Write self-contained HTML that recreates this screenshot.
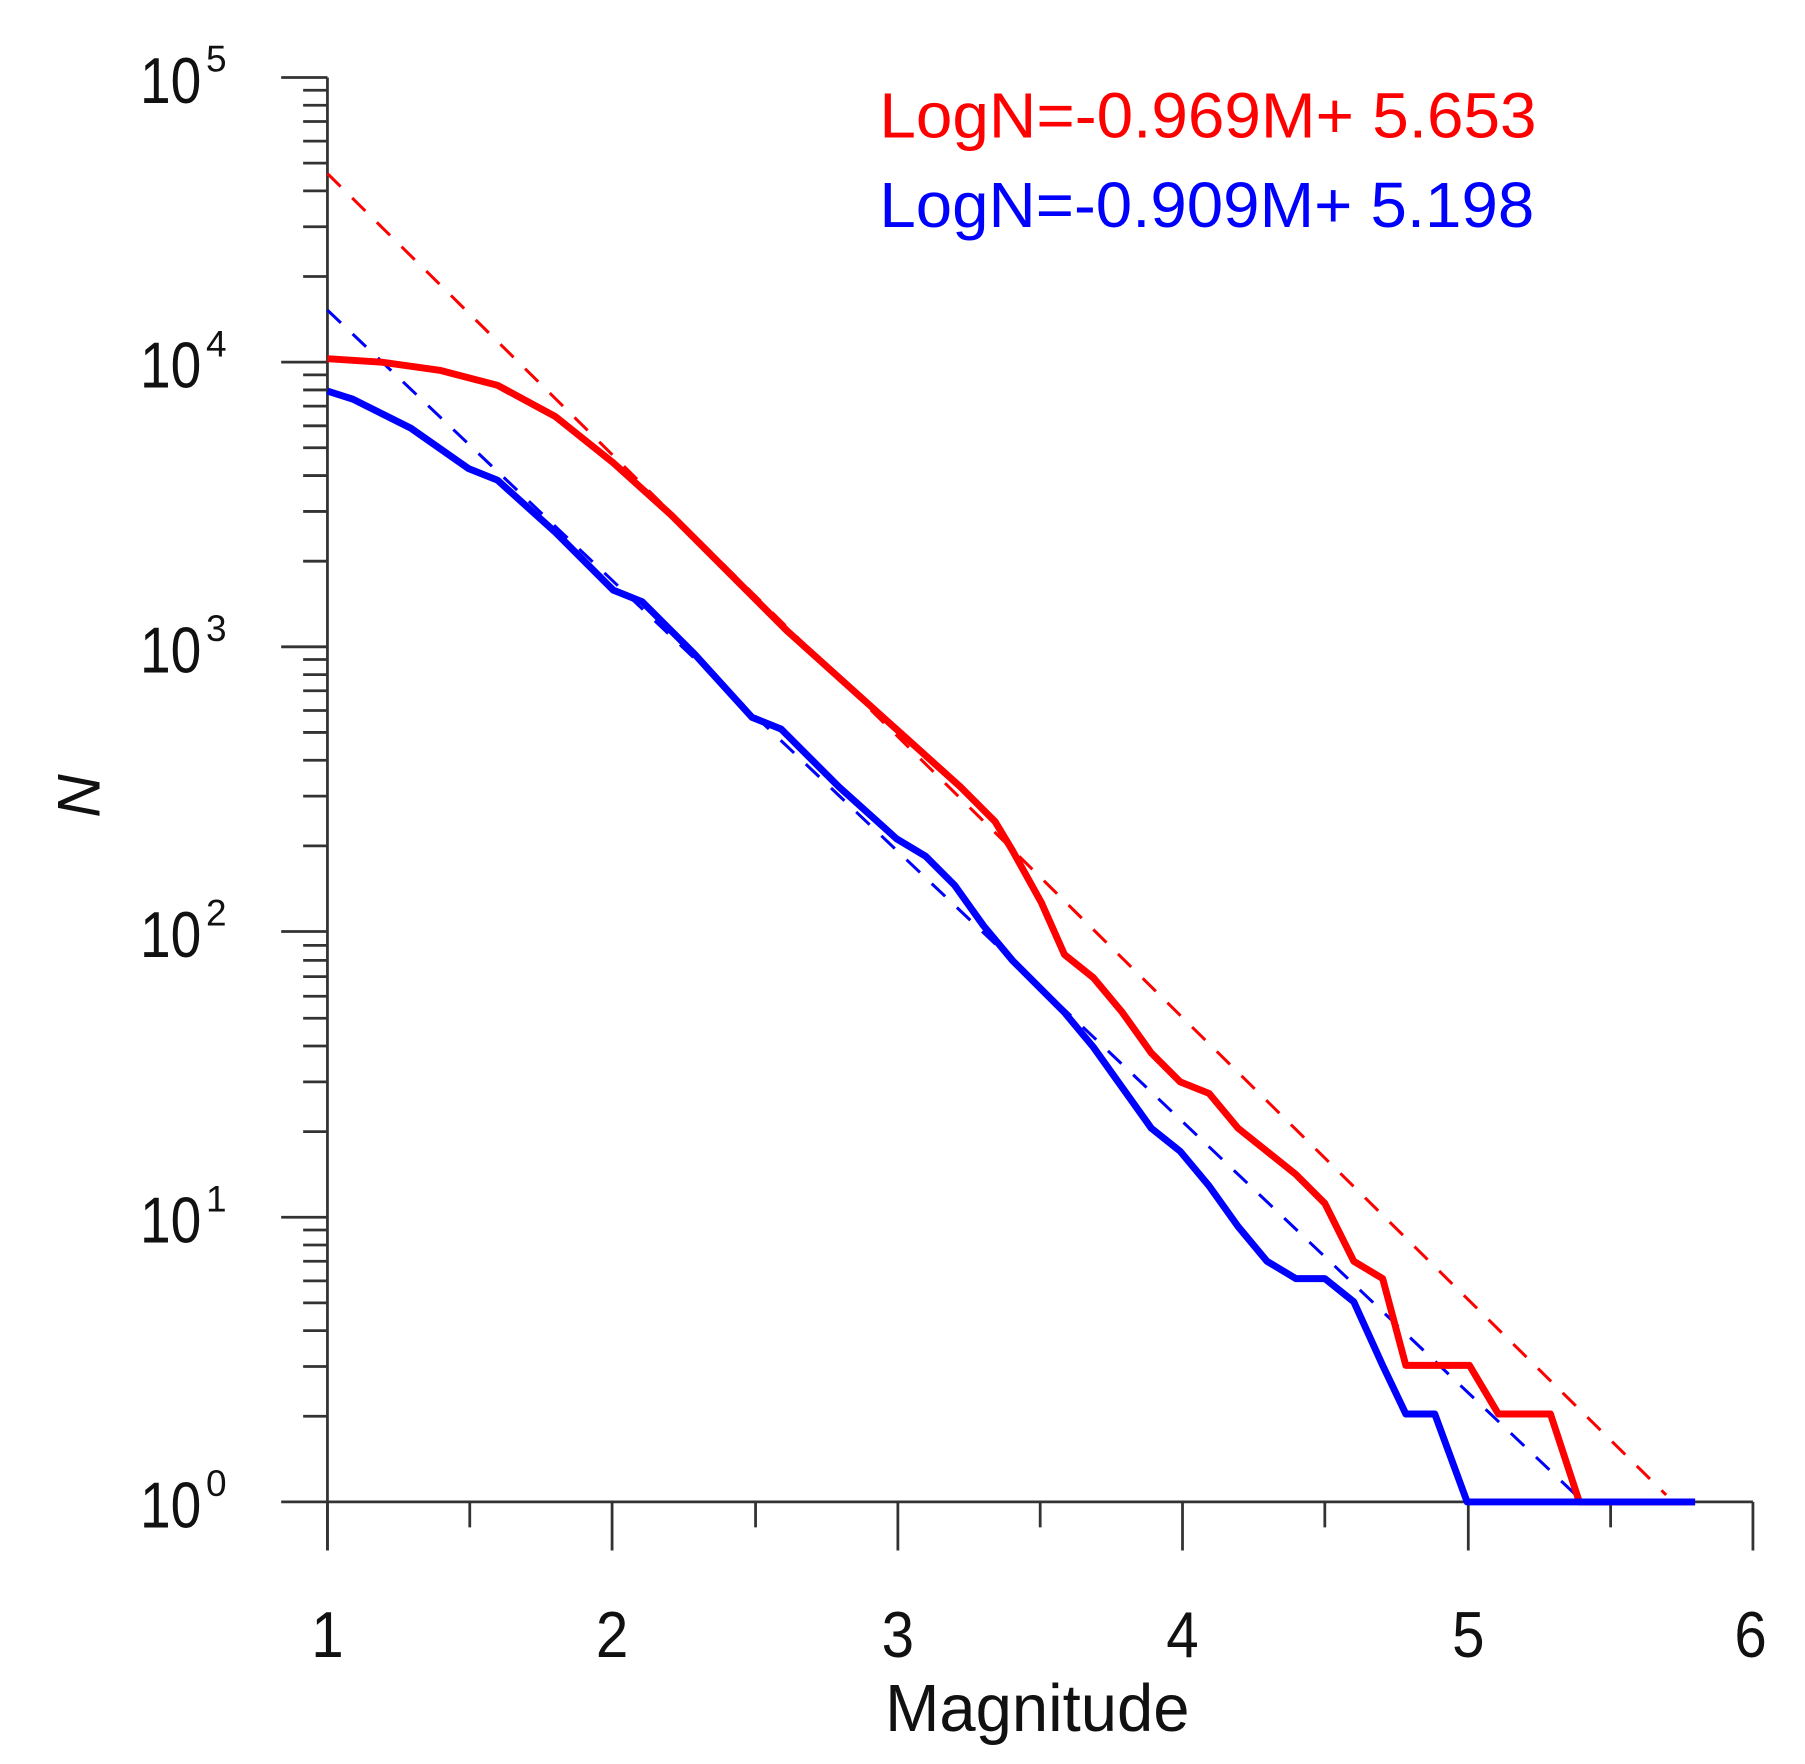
<!DOCTYPE html>
<html><head><meta charset="utf-8"><style>html,body{margin:0;padding:0;background:#fff}svg{display:block}</style></head>
<body>
<svg width="1805" height="1764" viewBox="0 0 1560 1524.5" preserveAspectRatio="none" xmlns="http://www.w3.org/2000/svg" font-family="Liberation Sans, sans-serif">
<rect width="1560" height="1525" fill="#fff"/>
<g stroke="#333" stroke-width="2.4" fill="none">
<line x1="283" y1="67" x2="283" y2="1340"/>
<line x1="243" y1="1298" x2="1515" y2="1298"/>
<line x1="243" y1="67" x2="283" y2="67"/>
<line x1="243" y1="313" x2="283" y2="313"/>
<line x1="243" y1="559" x2="283" y2="559"/>
<line x1="243" y1="805" x2="283" y2="805"/>
<line x1="243" y1="1052" x2="283" y2="1052"/>
<path d="M262 1224H283M262 1181H283M262 1150H283M262 1126H283M262 1107H283M262 1090H283M262 1076H283M262 1063H283
M262 978H283M262 935H283M262 904H283M262 880H283M262 861H283M262 844H283M262 830H283M262 817H283
M262 731H283M262 688H283M262 657H283M262 633H283M262 614H283M262 597H283M262 583H283M262 570H283
M262 485H283M262 442H283M262 411H283M262 387H283M262 368H283M262 351H283M262 337H283M262 324H283
M262 239H283M262 196H283M262 165H283M262 141H283M262 122H283M262 105H283M262 91H283M262 78H283"/>
<path d="M283 1298V1340M529 1298V1340M776 1298V1340M1022 1298V1340M1269 1298V1340M1515 1298V1340
M406 1298V1320M653 1298V1320M899 1298V1320M1145 1298V1320M1392 1298V1320"/>
</g>
<g font-size="56" fill="#111">
<text x="121" y="89" textLength="53" lengthAdjust="spacingAndGlyphs">10</text><text x="121" y="335" textLength="53" lengthAdjust="spacingAndGlyphs">10</text><text x="121" y="581" textLength="53" lengthAdjust="spacingAndGlyphs">10</text><text x="121" y="827" textLength="53" lengthAdjust="spacingAndGlyphs">10</text><text x="121" y="1074" textLength="53" lengthAdjust="spacingAndGlyphs">10</text><text x="121" y="1320" textLength="53" lengthAdjust="spacingAndGlyphs">10</text>
</g>
<g font-size="32" fill="#111">
<text x="178" y="62">5</text><text x="178" y="308">4</text><text x="178" y="554">3</text><text x="178" y="800">2</text><text x="178" y="1047">1</text><text x="178" y="1293">0</text>
</g>
<g font-size="56" fill="#111" text-anchor="middle">
<text x="283" y="1432" transform="translate(283,0) scale(0.9,1) translate(-283,0)">1</text>
<text x="529" y="1432" transform="translate(529,0) scale(0.9,1) translate(-529,0)">2</text>
<text x="776" y="1432" transform="translate(776,0) scale(0.9,1) translate(-776,0)">3</text>
<text x="1022" y="1432" transform="translate(1022,0) scale(0.9,1) translate(-1022,0)">4</text>
<text x="1269" y="1432" transform="translate(1269,0) scale(0.9,1) translate(-1269,0)">5</text>
<text x="1513" y="1432" transform="translate(1513,0) scale(0.9,1) translate(-1513,0)">6</text>
</g>
<text x="765" y="1496" font-size="58" textLength="263" lengthAdjust="spacingAndGlyphs" fill="#111">Magnitude</text>
<text transform="translate(86,688) rotate(-90)" font-size="52" font-style="italic" text-anchor="middle" fill="#111">N</text>
<text x="760" y="119" font-size="55" fill="#ff0000" textLength="568" lengthAdjust="spacingAndGlyphs">LogN=-0.969M+ 5.653</text>
<text x="760" y="196" font-size="55" fill="#0000ff" textLength="566" lengthAdjust="spacingAndGlyphs">LogN=-0.909M+ 5.198</text>
<line x1="283" y1="150" x2="1440" y2="1292" stroke="#ff0000" stroke-width="2.6" stroke-dasharray="16,14"/>
<line x1="283" y1="268" x2="1362" y2="1292" stroke="#0000ff" stroke-width="2.6" stroke-dasharray="16,14"/>
<polyline fill="none" stroke="#ff0000" stroke-width="6" stroke-linejoin="round" points="283,310 330,313 380,320 430,333 480,360 530,400 580,445 630,495 680,545 730,590 780,635 830,680 860,710 875,735 900,780 920,825 945,845 970,875 995,910 1020,935 1045,945 1070,975 1095,995 1120,1015 1145,1040 1170,1090 1195,1105 1215,1180 1270,1180 1295,1222 1340,1222 1365,1298 1465,1298"/>
<polyline fill="none" stroke="#0000ff" stroke-width="6" stroke-linejoin="round" points="283,338 305,345 355,370 405,405 430,415 480,460 530,510 555,520 600,565 650,620 675,630 725,680 775,725 800,740 825,765 850,800 875,830 920,875 945,905 970,940 995,975 1020,995 1045,1025 1070,1060 1095,1090 1120,1105 1145,1105 1170,1125 1195,1180 1215,1222 1240,1222 1268,1298 1465,1298"/>
</svg>
</body></html>
